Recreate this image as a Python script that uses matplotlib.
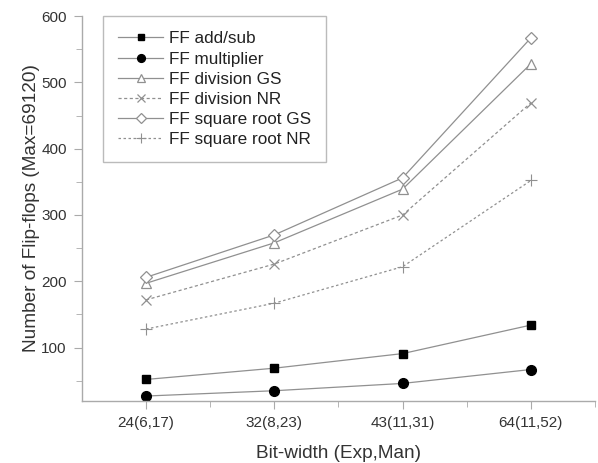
import matplotlib
matplotlib.use("Agg")
import matplotlib.pyplot as plt
from matplotlib.ticker import FixedLocator

plt.rcParams['font.family'] = ['Liberation Sans', 'DejaVu Sans']

categories = ["24(6,17)", "32(8,23)", "43(11,31)", "64(11,52)"]
ff_addsub = [52, 69, 91, 134]
ff_mult = [27, 35, 46, 67]
ff_div_gs = [197, 258, 339, 528]
ff_div_nr = [172, 226, 300, 469]
ff_sqrt_gs = [206, 270, 356, 567]
ff_sqrt_nr = [128, 167, 222, 352]

fig = plt.figure(figsize=(5.98, 4.63), dpi=100)
ax = fig.add_axes([0.137, 0.1346, 0.858, 0.8308])

x = list(range(len(categories)))
lc = '#909090'
ax.plot(x, ff_addsub, color=lc, lw=0.9, marker='s', ms=6, mfc='black', mec='black', label='FF add/sub')
ax.plot(x, ff_mult, color=lc, lw=0.9, marker='o', ms=7, mfc='black', mec='black', label='FF multiplier')
ax.plot(x, ff_div_gs, color=lc, lw=0.9, marker='^', ms=7.5, mfc='white', mec=lc, mew=0.9, label='FF division GS')
ax.plot(x, ff_div_nr, color=lc, lw=0.9, ls=(0, (2.5, 2)), marker='x', ms=7.5, mec=lc, mew=0.9, label='FF division NR')
ax.plot(x, ff_sqrt_gs, color=lc, lw=0.9, marker='D', ms=6, mfc='white', mec=lc, mew=0.9, label='FF square root GS')
ax.plot(x, ff_sqrt_nr, color=lc, lw=0.9, ls=(0, (2, 2)), marker='+', ms=8.5, mec=lc, mew=0.8, label='FF square root NR')

ax.set_xlim(-0.5, 3.5)
ax.set_ylim(20, 600)
ax.set_xticks(x)
ax.set_xticklabels(categories)
ax.xaxis.set_minor_locator(FixedLocator([0.5, 1.5, 2.5, 3.5]))
ax.set_yticks([100, 200, 300, 400, 500, 600])
ax.yaxis.set_minor_locator(FixedLocator([50, 150, 250, 350, 450, 550]))

for s in ['top', 'right']:
    ax.spines[s].set_visible(False)
for s in ['left', 'bottom']:
    ax.spines[s].set_color('#aaaaaa')
    ax.spines[s].set_linewidth(1.0)
ax.tick_params(which='major', length=6, color='#aaaaaa', labelsize=11, labelcolor='#333333', pad=5)
ax.tick_params(which='minor', length=4, color='#aaaaaa')

ax.set_xlabel('Bit-width (Exp,Man)', fontsize=13.7, color='#333333', labelpad=11)
ax.set_ylabel('Number of Flip-flops (Max=69120)', fontsize=13.7, color='#333333', labelpad=1)

leg = ax.legend(loc='upper left', bbox_to_anchor=(0.041, 1.0), borderaxespad=0.0,
                fontsize=12.3, frameon=True, markerscale=0.8,
                fancybox=False, edgecolor='#aaaaaa', handlelength=2.6, labelspacing=0.3,
                borderpad=0.9, handletextpad=0.35)
leg.get_frame().set_linewidth(1.0)
for t in leg.get_texts():
    t.set_color('#222222')

fig.savefig('out.png', dpi=100)
